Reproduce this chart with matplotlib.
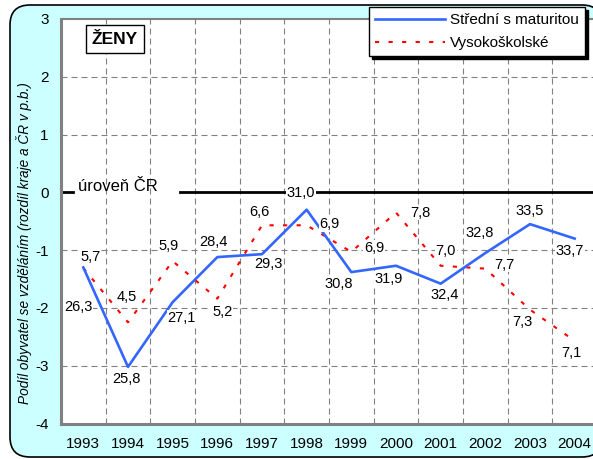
import numpy as np
import matplotlib
matplotlib.use("Agg")
from matplotlib import pyplot as plt
from matplotlib.patches import FancyBboxPatch
from matplotlib.transforms import IdentityTransform

plt.rcParams['font.family'] = ['Liberation Sans', 'DejaVu Sans']

years = ['1993', '1994', '1995', '1996', '1997', '1998',
         '1999', '2000', '2001', '2002', '2003', '2004']
# difference of region vs. CR (p.b.)
stredni = [-1.30, -3.02, -1.90, -1.12, -1.07, -0.30, -1.38, -1.27, -1.58, -1.05, -0.55, -0.80]
vysoko = [-1.31, -2.25, -1.19, -1.84, -0.57, -0.57, -1.03, -0.35, -1.27, -1.32, -2.03, -2.57]
# labels = actual shares in %
stredni_lab = ['26,3', '25,8', '27,1', '28,4', '29,3', '31,0', '30,8', '31,9', '32,4', '32,8', '33,5', '33,7']
vysoko_lab = ['5,7', '4,5', '5,9', '5,2', '6,6', '6,9', '6,9', '7,8', '7,0', '7,7', '7,3', '7,1']

# label offsets in pixels (dx, dy)
stredni_off = [(-5, -40), (-2, -12), (9, -16), (-4, 15), (6, -10), (-6, 17),
               (-13, -12), (-7, -13), (4, -11), (-6, 20), (0, 13), (-5, -12)]
vysoko_off = [(7, 11), (-1, 25), (-4, 15), (5, -13), (-3, 13), (23, 1),
              (23, 4), (24, 0), (5, 15), (19, 4), (-8, -12), (-3, -12)]

W, H = 593, 459
fig = plt.figure(figsize=(W / 100, H / 100), dpi=100)
fig.patch.set_facecolor('white')

# rounded cyan frame
frame = FancyBboxPatch((10, 2), 592, 452, boxstyle="round,pad=0,rounding_size=20",
                       facecolor='#CCFFFF', edgecolor='black', linewidth=1.2,
                       transform=IdentityTransform(), zorder=-10)
fig.patches.append(frame)

ax = fig.add_axes([61 / W, (H - 423.5) / H, 536 / W, (423.5 - 19) / H])
ax.set_facecolor('white')
x = np.arange(len(years))
ax.set_xlim(-0.5, len(years) - 0.5)
ax.set_ylim(-4, 3)

# grid
for gx in np.arange(0.5, len(years) - 0.5, 1):
    ax.axvline(gx, color='#808080', lw=0.8, dashes=(5.4, 3.6), zorder=1)
for gy in [-3, -2, -1, 1, 2]:
    ax.axhline(gy, color='#808080', lw=0.8, dashes=(5.4, 3.6), zorder=1)

# level of CR
ax.axhline(0, xmin=0, xmax=0.022, color='black', lw=2, zorder=2)
ax.axhline(0, xmin=0.222, xmax=1, color='black', lw=2, zorder=2)
ax.text(0.032, 0.02, 'úroveň ČR', transform=ax.get_yaxis_transform(),
        fontsize=12, ha='left', va='baseline')

ax.plot(x, stredni, color='#3366FF', lw=1.9, label='Střední s maturitou', zorder=4)
ax.plot(x, vysoko, color='#FF0000', lw=1.5, dashes=(2, 4.5), label='Vysokoškolské', zorder=3)

lab_box = dict(boxstyle='square,pad=0.05', facecolor='white', edgecolor='none')
for i in range(len(years)):
    ax.annotate(stredni_lab[i], (x[i], stredni[i]), xytext=stredni_off[i],
                textcoords='offset pixels', ha='center', va='center', fontsize=10.5,
                zorder=5, bbox=lab_box)
    ax.annotate(vysoko_lab[i], (x[i], vysoko[i]), xytext=vysoko_off[i],
                textcoords='offset pixels', ha='center', va='center', fontsize=10.5,
                zorder=5, bbox=lab_box)

ax.set_xticks(x)
ax.set_xticklabels(years)
ax.set_yticks(range(-4, 4))
ax.set_yticklabels([str(v) for v in range(-4, 4)])
ax.tick_params(axis='both', length=0, labelsize=11)
ax.tick_params(axis='x', pad=10)
ax.tick_params(axis='y', pad=9)
for s in ['left', 'bottom']:
    ax.spines[s].set_color('#808080')
    ax.spines[s].set_linewidth(2.2)
ax.spines['top'].set_color('#808080')
ax.spines['top'].set_linewidth(1.5)
ax.spines['right'].set_visible(False)

fig.text(24 / W, (H - 243) / H, 'Podíl obyvatel se vzděláním (rozdíl kraje a ČR v p.b.)',
         fontstyle='italic', fontsize=9.8, rotation=90, ha='center', va='center')

ax.text(115 / W, 1 - 39 / H, 'ŽENY', transform=fig.transFigure, fontsize=12.5,
        fontweight='bold', ha='center', va='center',
        bbox=dict(boxstyle='square,pad=0.35', facecolor='white', edgecolor='black', lw=1))

fig.legend(loc='upper left', bbox_to_anchor=(369 / W, 1 - 7 / H), borderaxespad=0,
           fontsize=11, handlelength=4.6, handletextpad=0.3, labelspacing=0.6,
           borderpad=0.4, fancybox=False, edgecolor='black', framealpha=1,
           shadow={'facecolor': 'black', 'edgecolor': 'black', 'alpha': 1})

fig.savefig('out.png', dpi=100)
